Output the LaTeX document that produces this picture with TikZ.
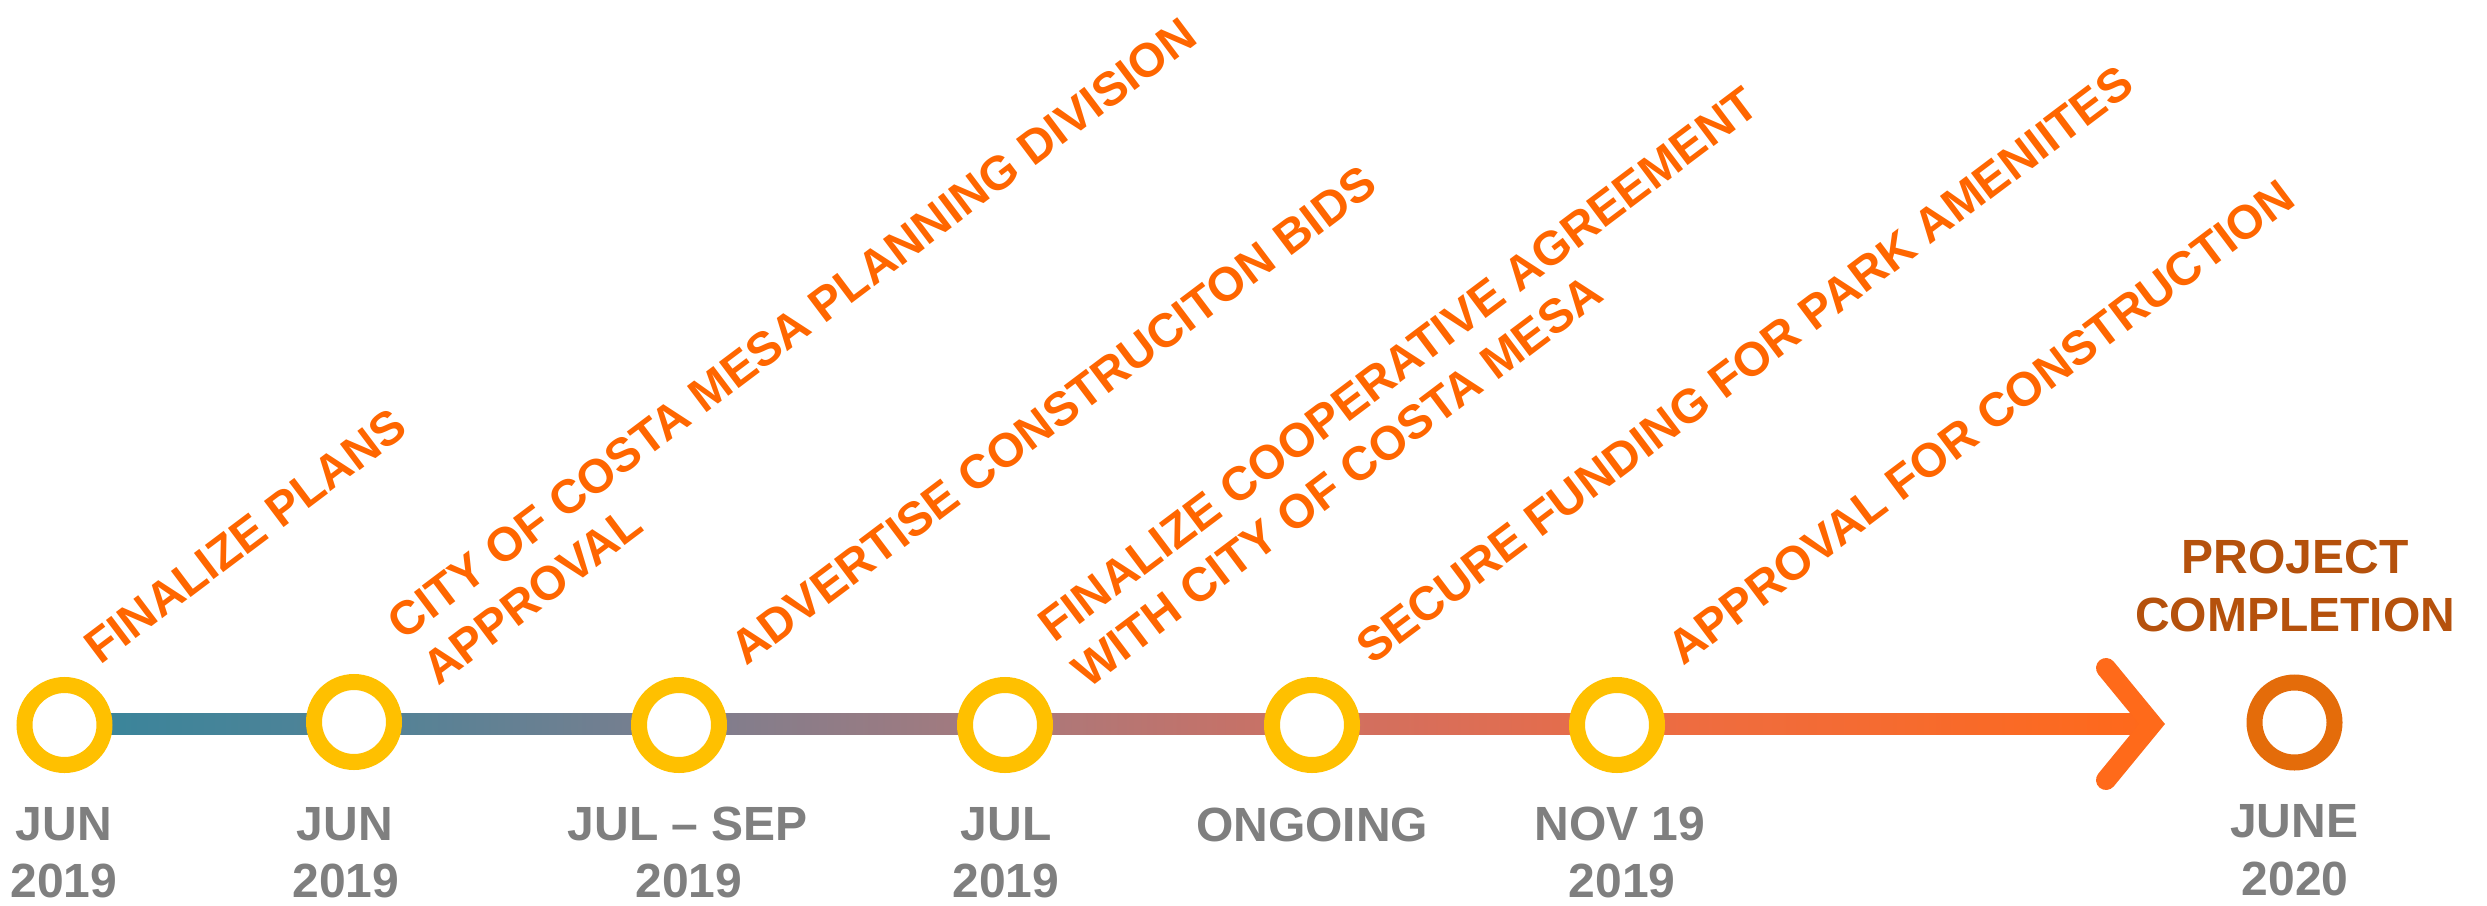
\documentclass[tikz,border=0pt]{standalone}
\usepackage{fontspec}
\setmainfont{Liberation Sans}
\usetikzlibrary{calc}
\definecolor{ylw}{HTML}{FFC000}
\definecolor{org}{HTML}{FF6600}
\definecolor{gry}{HTML}{7F7F7F}
\definecolor{brn}{HTML}{B5510C}
\definecolor{endc}{HTML}{E46C0A}
\definecolor{arr}{HTML}{FF6A1A}
\pgfdeclarehorizontalshading{barshade}{100bp}{%
rgb(0bp)=(0.216,0.522,0.608);
rgb(25bp)=(0.216,0.522,0.608);
rgb(33bp)=(0.333,0.510,0.588);
rgb(40bp)=(0.490,0.494,0.557);
rgb(47bp)=(0.647,0.478,0.494);
rgb(52bp)=(0.753,0.451,0.424);
rgb(58bp)=(0.855,0.431,0.345);
rgb(64bp)=(0.933,0.424,0.251);
rgb(75bp)=(1,0.412,0.102);
rgb(100bp)=(1,0.412,0.102)}
\tikzset{
  ring/.style={circle, minimum size=80pt, line width=16pt, fill=white, inner sep=0pt},
  lab/.style={text=org, font=\fontsize{47.5}{57}\selectfont\bfseries, rotate=37, anchor=base west, inner sep=0pt},
  datelab/.style={text=gry, font=\fontsize{48}{57}\selectfont\bfseries, anchor=base, inner sep=0pt},
  donelab/.style={text=brn, font=\fontsize{48}{57}\selectfont\bfseries, anchor=base, inner sep=0pt}
}
\begin{document}
\begin{tikzpicture}[x=1pt,y=-1pt]
\useasboundingbox (0,0) rectangle (2487,905);
% key points
\coordinate (p1) at (64.5,724);
\coordinate (v) at (2152,724);
\coordinate (a1) at (2106,668);
\coordinate (a2) at (2106,780);
% bar
\shade[shading=barshade] ($(p1)+(0,-10.5)$) rectangle ($(v)+(0,10.5)$);
\draw[arr, line width=20pt, line cap=round, line join=miter] (a1) -- (v) -- (a2);
% milestones
\node[ring, draw=ylw] (c1) at (64.5,725) {};
\node[ring, draw=ylw] (c2) at (354,722) {};
\node[ring, draw=ylw] (c3) at (679,725) {};
\node[ring, draw=ylw] (c4) at (1005,725) {};
\node[ring, draw=ylw] (c5) at (1312,725) {};
\node[ring, draw=ylw] (c6) at (1617,725) {};
\node[ring, draw=endc] (c7) at (2294.5,722.5) {};
% rotated labels
\node[lab] (t1) at (100,666) {FINALIZE PLANS};
\node[lab] (t2a) at (403.7,641.5) {CITY OF COSTA MESA PLANNING DIVISION};
\node[lab] (t2b) at (438,687) {APPROVAL};
\node[lab] (t3) at (746,667) {ADVERTISE CONSTRUCITON BIDS};
\node[lab] (t4a) at (1054,644) {FINALIZE COOPERATIVE AGREEMENT};
\node[lab] (t4b) at (1088,689.5) {WITH CITY OF COSTA MESA};
\node[lab] (t5) at (1372,666) {SECURE FUNDING FOR PARK AMENIITES};
\node[lab] (t6) at (1683,667) {APPROVAL FOR CONSTRUCTION};
% completion
\node[donelab] (d1) at (2295,573) {PROJECT};
\node[donelab] (d2) at (2295,631) {COMPLETION};
% dates
\node[datelab] (m1a) at (64,840) {JUN};
\node[datelab] (m1b) at (64,897) {2019};
\node[datelab] (m2a) at (345,840) {JUN};
\node[datelab] (m2b) at (346,897) {2019};
\node[datelab] (m3a) at (688,840) {JUL – SEP};
\node[datelab] (m3b) at (689,897) {2019};
\node[datelab] (m4a) at (1006,840) {JUL};
\node[datelab] (m4b) at (1006,897) {2019};
\node[datelab] (m5a) at (1312,841) {ONGOING};
\node[datelab] (m6a) at (1620,840) {NOV 19};
\node[datelab] (m6b) at (1622,897) {2019};
\node[datelab] (m7a) at (2294,837) {JUNE};
\node[datelab] (m7b) at (2295,895) {2020};
\end{tikzpicture}
\end{document}
